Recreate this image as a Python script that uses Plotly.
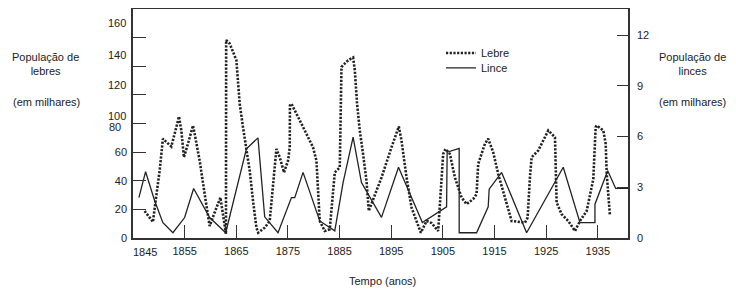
import plotly.graph_objects as go

# ---- data ----
hare_years = [1847.25,1848.22,1848.86,1849.38,1850.16,1850.79,1852.42,1853.39,1853.90,1854.36,
              1854.86,1855.64,1856.61,1856.94,1857.91,1858.88,1859.84,1860.81,1861.92,1862.42,
              1863.00,1863.04,1863.72,1865.02,1865.66,1866.30,1866.96,1867.60,1868.24,1868.90,
              1869.24,1870.50,1871.47,1872.11,1872.77,1873.41,1874.24,1875.02,1875.35,1875.39,
              1875.68,1877.62,1879.86,1880.52,1880.83,1881.16,1882.13,1883.10,1884.07,1885.04,
              1885.37,1885.68,1886.65,1887.62,1887.95,1888.39,1888.91,1889.55,1890.21,1890.66,
              1891.18,1893.12,1895.06,1896.47,1896.99,1897.97,1898.93,1899.90,1900.74,1901.84,
              1902.81,1904.09,1904.42,1905.06,1905.52,1906.36,1907.33,1908.62,1909.59,1910.87,
              1911.53,1911.84,1913.14,1913.78,1914.75,1915.72,1917.02,1918.31,1920.89,1921.41,
              1921.86,1922.19,1923.47,1924.44,1925.41,1926.71,1927.03,1928.00,1929.28,1930.58,
              1931.55,1932.85,1934.13,1934.59,1934.79,1936.07,1936.53,1936.73,1937.03,1937.36]
hare_values = [18.9,14.2,11.2,26.0,47.0,69.3,63.9,77.4,84.9,75.1,
               56.4,65.8,78.6,72.8,54.0,30.7,8.4,17.8,28.3,16.6,
               2.8,138.3,135.9,124.2,93.8,77.4,62.2,47.0,26.0,7.2,
               3.7,7.2,11.9,35.3,62.2,56.4,45.8,54.0,63.4,92.6,
               93.8,79.8,63.4,54.0,35.3,11.9,4.9,6.1,45.8,49.3,
               119.5,120.7,124.2,126.1,117.2,93.8,75.1,58.7,40.0,18.9,
               23.7,42.3,63.4,77.9,68.1,42.3,21.3,11.9,3.7,11.9,
               10.5,4.9,22.5,58.7,62.2,58.7,42.3,28.3,23.7,27.2,
               30.7,51.7,65.8,69.3,59.9,44.7,28.3,11.9,10.7,14.2,
               42.3,56.4,61.1,68.1,75.1,70.4,24.8,16.6,11.9,4.9,
               11.9,18.9,41.2,77.4,78.6,75.1,65.8,44.7,28.3,15.4]

lynx_years = [1846.14,1847.44,1849.19,1850.79,1852.73,1855.00,1856.74,1859.84,1862.95,1866.96,
              1869.20,1870.50,1873.08,1875.68,1876.32,1877.93,1881.16,1884.07,1885.68,1887.62,
              1889.24,1893.12,1896.41,1901.03,1905.72,1905.83,1908.16,1908.16,1911.53,1913.78,
              1913.97,1916.38,1921.22,1928.31,1931.55,1934.45,1934.45,1936.92,1938.47,1940.85]
lynx_values = [2.39,3.92,2.20,0.91,0.31,1.21,2.93,1.21,0.31,5.27,
               5.92,1.25,0.31,2.39,2.39,3.88,1.01,0.42,3.28,5.97,
               3.28,1.22,4.18,0.91,1.84,5.07,5.30,0.31,0.31,1.84,
               2.89,3.88,0.31,4.18,0.91,0.91,2.00,3.98,2.93,2.93]

x_tick_years = [1855, 1865, 1875, 1885, 1895, 1905, 1915, 1925, 1935]
x_tick_labels = [str(y) for y in x_tick_years]
first_year_label = "1845"
hare_tick_vals = [0, 20, 40, 60, 80, 100, 120, 140]
hare_tick_text = ["0", "20", "40", "60", "", "", "", ""]
# labels drawn at their own (offset) heights in the original
hare_extra_labels = ["80", "100", "120", "140", "160"]
hare_extra_label_vals = [77.5, 85.5, 106.7, 127.7, 150.2]
lynx_tick_vals = [0, 3, 6, 9, 12]
lynx_tick_text = ["0", "3", "6", "9", "12"]

INK = "#222222"
FONT = "Liberation Sans, Arial, sans-serif"

# the page body adds an 8px offset; the figure is sized to compensate
OFF = 8
W, H = 736 - OFF, 289 - OFF
L, T = 133 - OFF, 9 - OFF
R = W - (628 - OFF)
B = H - (238 - OFF)

fig = go.Figure()
fig.add_trace(go.Scatter(
    x=hare_years, y=hare_values, name="Lebre", mode="lines", legend="legend",
    line=dict(color=INK, width=2.6, dash="2.2px,1.5px"),
))
fig.add_trace(go.Scatter(
    x=lynx_years, y=lynx_values, name="Lince", mode="lines", yaxis="y2",
    legend="legend2",
    line=dict(color=INK, width=1.3),
))

PW = 628 - 133
PH = 238 - 9


def px_x(px):
    return (px - 133) / PW


def px_y(py):
    return (238 - py) / PH


annotations = []
for txt, v in zip(hare_extra_labels, hare_extra_label_vals):
    right = 122.5 if txt == "80" else 128
    annotations.append(dict(
        text=txt, x=px_x(right), xref="paper", xanchor="right",
        y=v, yref="y", yanchor="middle", showarrow=False,
        font=dict(size=11, color=INK, family=FONT)))
annotations.append(dict(
    text=first_year_label, x=px_x(145), xref="paper", xanchor="center",
    y=px_y(251.7), yref="paper", yanchor="middle", showarrow=False,
    font=dict(size=11, color=INK, family=FONT)))
annotations.append(dict(
    text="População de<br>lebres", x=px_x(45.5), xref="paper", xanchor="center",
    y=px_y(63.5), yref="paper", yanchor="middle", showarrow=False,
    font=dict(size=11, color=INK, family=FONT)))
annotations.append(dict(
    text="(em milhares)", x=px_x(46.5), xref="paper", xanchor="center",
    y=px_y(101.7), yref="paper", yanchor="middle", showarrow=False,
    font=dict(size=11, color=INK, family=FONT)))
annotations.append(dict(
    text="População de<br>linces", x=px_x(727.5), xref="paper", xanchor="right",
    align="center", y=px_y(63.5), yref="paper", yanchor="middle",
    showarrow=False, font=dict(size=11, color=INK, family=FONT)))
annotations.append(dict(
    text="(em milhares)", x=px_x(728), xref="paper", xanchor="right",
    y=px_y(101.7), yref="paper", yanchor="middle", showarrow=False,
    font=dict(size=11, color=INK, family=FONT)))
annotations.append(dict(
    text="Tempo (anos)", x=px_x(382.5), xref="paper", xanchor="center",
    y=px_y(281), yref="paper", yanchor="middle", showarrow=False,
    font=dict(size=11, color=INK, family=FONT)))

legend_common = dict(
    xanchor="left", yanchor="top", bgcolor="rgba(0,0,0,0)", borderwidth=0,
    font=dict(size=11, color=INK, family=FONT),
)

fig.update_layout(
    width=W, height=H,
    margin=dict(l=L, r=R, t=T, b=B, pad=0, autoexpand=False),
    paper_bgcolor="white", plot_bgcolor="white",
    font=dict(family=FONT, size=11, color=INK),
    showlegend=True,
    legend=dict(x=px_x(441), y=px_y(38.5), **legend_common),
    legend2=dict(x=px_x(441), y=px_y(53.3), **legend_common),
    xaxis=dict(
        range=[1845, 1940.85], showgrid=False, zeroline=False,
        showline=True, linecolor="#333333", linewidth=1.5, mirror=True,
        ticks="inside", ticklen=13, tickwidth=1.3, tickcolor="#333333",
        tickvals=x_tick_years, ticktext=x_tick_labels,
        ticklabelstandoff=2,
    ),
    yaxis=dict(
        range=[0, 160], showgrid=False, zeroline=False,
        showline=True, linecolor="#333333", linewidth=1.5, mirror=True,
        ticks="inside", ticklen=13, tickwidth=1.3, tickcolor="#333333",
        tickvals=hare_tick_vals, ticktext=hare_tick_text,
        ticklabelstandoff=2,
    ),
    yaxis2=dict(
        range=[0, 13.54], overlaying="y", side="right", showgrid=False,
        zeroline=False, showline=True, linecolor="#333333", linewidth=1.5,
        ticks="inside", ticklen=11, tickwidth=1.3, tickcolor="#333333",
        tickvals=lynx_tick_vals, ticktext=lynx_tick_text,
        ticklabelstandoff=5,
    ),
    annotations=annotations,
)

fig.write_html("out.html")
